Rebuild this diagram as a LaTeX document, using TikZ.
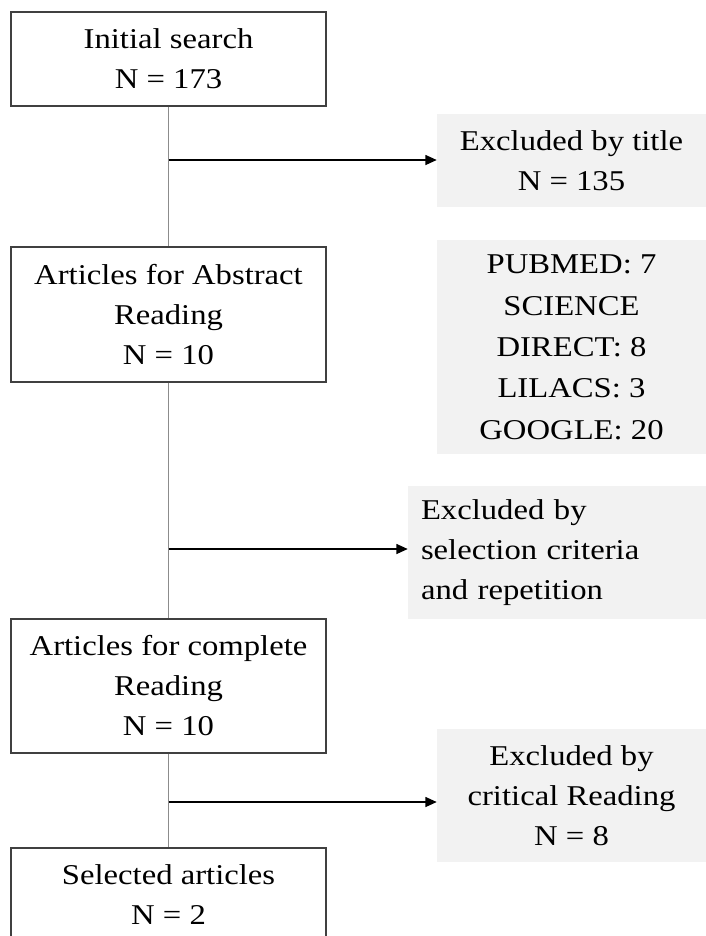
\documentclass[tikz,border=0pt]{standalone}
\usepackage{fontspec}
\setmainfont{Liberation Serif}[FakeStretch=1.14]
\usetikzlibrary{arrows.meta}
\definecolor{frame}{HTML}{404040}
\definecolor{trunk}{HTML}{8C8C8C}
\definecolor{shade}{HTML}{F2F2F2}

\begin{document}
\begin{tikzpicture}[x=0.75pt,y=-0.75pt,
    stage/.style={draw=frame, line width=0.9pt, fill=white, minimum width=236.25pt,
                  align=center, inner sep=0pt, font=\fontsize{21.5}{30}\selectfont},
    excl/.style={fill=shade, minimum width=201.75pt, align=center, inner sep=0pt,
                 font=\fontsize{21.5}{30}\selectfont},
    link/.style={draw=trunk, line width=0.75pt},
    branch/.style={-{Triangle[length=8.5pt,width=7.5pt]}, line width=0.9pt, black}]
  \useasboundingbox (0,0) rectangle (706,936);
  \clip (0,0) rectangle (706,936);

  % main column
  \node[stage, minimum height=70.5pt, text depth=0pt] (search) at (168.5,59) {Initial search\\N = 173};
  \node[stage, minimum height=101.25pt] (abstract) at (168.5,314.5) {Articles for Abstract\\Reading\\N = 10};
  \node[stage, minimum height=100.5pt] (complete) at (168.5,686)  {Articles for complete\\Reading\\N = 10};
  \node[stage, minimum height=70.5pt, text depth=0pt] (selected) at (168.5,895) {Selected articles\\N = 2};

  % side boxes
  \node[excl, minimum height=69.75pt] (bytitle) at (571.5,160.5) {Excluded by title\\N = 135};
  \node[excl, minimum height=160.5pt, font=\fontsize{21.5}{31}\selectfont, yshift=-1pt]
        (sources) at (571.5,346) {PUBMED: 7\\SCIENCE\\DIRECT: 8\\LILACS: 3\\GOOGLE: 20};
  \node[excl, minimum width=223.5pt, minimum height=99.75pt, text width=204pt, align=left]
        (bycriteria) at (557,552.5) {Excluded by\\selection criteria\\and repetition};
  \node[excl, minimum height=99.75pt] (bycritical) at (571.5,795.5) {Excluded by\\critical Reading\\N = 8};

  \draw[link] (search.south) -- (abstract.north);
  \draw[link] (abstract.south) -- (complete.north);
  \draw[link] (complete.south) -- (selected.north);

  \coordinate (t1) at (168.5,160);
  \coordinate (t2) at (168.5,549);
  \coordinate (t3) at (168.5,802);
  \draw[branch] (t1) -- (t1 -| bytitle.west);
  \draw[branch] (t2) -- (t2 -| bycriteria.west);
  \draw[branch] (t3) -- (t3 -| bycritical.west);
\end{tikzpicture}
\end{document}
